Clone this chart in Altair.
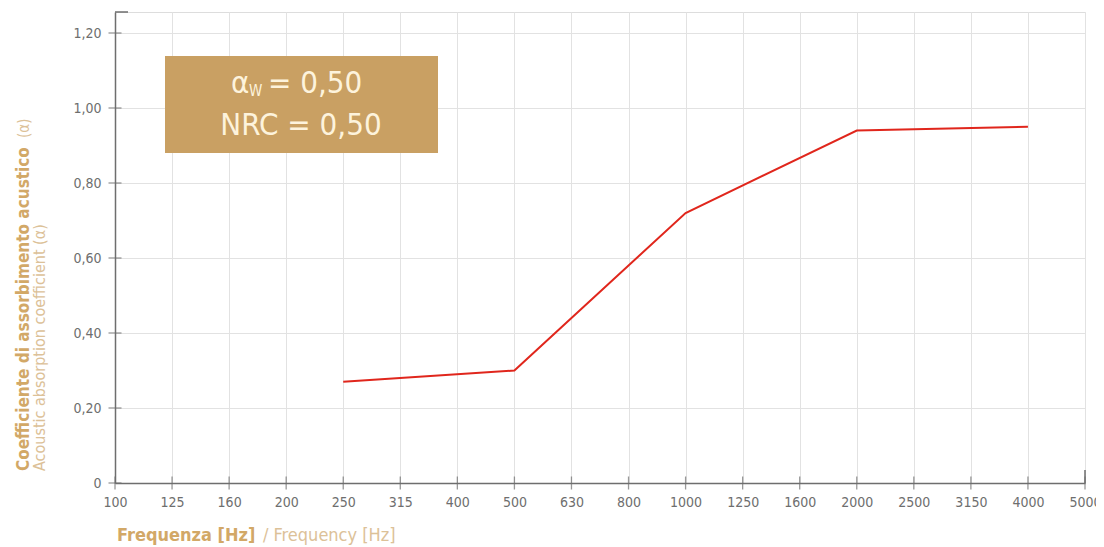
import altair as alt
import pandas as pd

# Category axis (third-octave band frequencies, Hz)
categories = ["100", "125", "160", "200", "250", "315", "400", "500", "630",
              "800", "1000", "1250", "1600", "2000", "2500", "3150", "4000", "5000"]
# Measured bands and absorption coefficients
meas_freq = ["250", "500", "1000", "2000", "4000"]
alpha = [0.27, 0.30, 0.72, 0.94, 0.95]
y_ticks = [0, 0.2, 0.4, 0.6, 0.8, 1.0, 1.2]

FONT = "Liberation Sans Narrow, DejaVu Sans Condensed, Roboto, sans-serif"
TAN_BOLD = "#d2a867"
TAN_LIGHT = "#dcc198"
BOX = "#c9a063"
CREAM = "#fdf3dc"
GREY = "#6e6e6e"

W, H = 970, 471

df = pd.DataFrame({"freq": meas_freq, "alpha": alpha})
one = alt.Data(values=[{}])

xs = alt.Scale(type="point", domain=categories, padding=0)
ys = alt.Scale(domain=[0, 1.256], nice=False, zero=True)

line = alt.Chart(df).mark_line(color="#e0261c", strokeWidth=2).encode(
    x=alt.X("freq:O", scale=xs, sort=categories,
            axis=alt.Axis(title=None, labelAngle=0, labelFont=FONT, labelFontSize=14,
                          labelColor=GREY, ticks=False,
                          domainColor=GREY, domainWidth=1.5, labelPadding=12,
                          grid=True, gridColor="#e2e2e2", gridWidth=1)),
    y=alt.Y("alpha:Q", scale=ys,
            axis=alt.Axis(title=None, values=y_ticks, labelFont=FONT, labelFontSize=14,
                          labelColor=GREY, ticks=False,
                          domainColor=GREY, domainWidth=1.5, labelPadding=14,
                          grid=True, gridColor="#e2e2e2", gridWidth=1,
                          labelExpr="datum.value == 0 ? '0' : replace(format(datum.value, '.2f'), '.', ',')")),
)

# crossing tick marks on the axes
xt = alt.Chart(pd.DataFrame({"freq": categories})).mark_tick(
    orient="vertical", size=13, thickness=1.3, color=GREY).encode(
    x=alt.X("freq:O", scale=xs, sort=categories), y=alt.value(H))
yt = alt.Chart(pd.DataFrame({"v": y_ticks})).mark_tick(
    orient="horizontal", size=13, thickness=1.3, color=GREY).encode(
    y=alt.Y("v:Q", scale=ys), x=alt.value(0))

# decorations: stubs at axis ends
top_stub = alt.Chart(one).mark_rule(color=GREY, strokeWidth=1.5).encode(
    x=alt.value(0), x2=alt.value(13), y=alt.value(0))
right_stub = alt.Chart(one).mark_rule(color=GREY, strokeWidth=1.5).encode(
    x=alt.value(W), y=alt.value(H - 13), y2=alt.value(H))

box = alt.Chart(one).mark_rect(color=BOX).encode(
    x=alt.value(50), x2=alt.value(323), y=alt.value(44), y2=alt.value(141))

t_alpha = alt.Chart(one).mark_text(text="α", font=FONT, fontSize=31, color=CREAM,
                                   align="left", baseline="alphabetic").encode(
    x=alt.value(116), y=alt.value(81))
t_w = alt.Chart(one).mark_text(text="W", font=FONT, fontSize=15, color=CREAM,
                               align="left", baseline="alphabetic").encode(
    x=alt.value(134), y=alt.value(84))
t_eq = alt.Chart(one).mark_text(text="= 0,50", font=FONT, fontSize=31, color=CREAM,
                                align="left", baseline="alphabetic").encode(
    x=alt.value(153), y=alt.value(81))
t_nrc = alt.Chart(one).mark_text(text="NRC = 0,50", font=FONT, fontSize=31, color=CREAM,
                                 align="center", baseline="alphabetic").encode(
    x=alt.value(186), y=alt.value(123))

# axis titles as text
ytitle1 = alt.Chart(one).mark_text(text="Coefficiente di assorbimento acustico", font=FONT,
                                   fontSize=17, fontWeight="bold", color=TAN_BOLD, angle=270,
                                   align="left", baseline="middle").encode(
    x=alt.value(-91), y=alt.value(459))
ytitle1b = alt.Chart(one).mark_text(text="(α)", font=FONT, fontSize=15, color=TAN_LIGHT,
                                    angle=270, align="left", baseline="middle").encode(
    x=alt.value(-91), y=alt.value(126))
ytitle2 = alt.Chart(one).mark_text(text="Acoustic absorption coefficient (α)", font=FONT,
                                   fontSize=16, color=TAN_LIGHT, angle=270,
                                   align="left", baseline="middle").encode(
    x=alt.value(-75), y=alt.value(459))
xtitle1 = alt.Chart(one).mark_text(text="Frequenza [Hz]", font=FONT, fontSize=18,
                                   fontWeight="bold", color=TAN_BOLD,
                                   align="left", baseline="middle").encode(
    x=alt.value(2), y=alt.value(524))
xtitle2 = alt.Chart(one).mark_text(text="/ Frequency [Hz]", font=FONT, fontSize=18,
                                   color=TAN_LIGHT, align="left", baseline="middle").encode(
    x=alt.value(148), y=alt.value(524))

chart = alt.layer(line, xt, yt, top_stub, right_stub, box, t_alpha, t_w, t_eq, t_nrc,
                  ytitle1, ytitle1b, ytitle2, xtitle1, xtitle2).properties(
    width=W, height=H,
    autosize=alt.AutoSizeParams(type="none"),
    padding={"left": 107, "top": 4, "right": 11, "bottom": 64},
).configure_view(stroke=None).configure(background="white")

chart.save("out.html", embed_options={"renderer": "svg", "actions": False})
